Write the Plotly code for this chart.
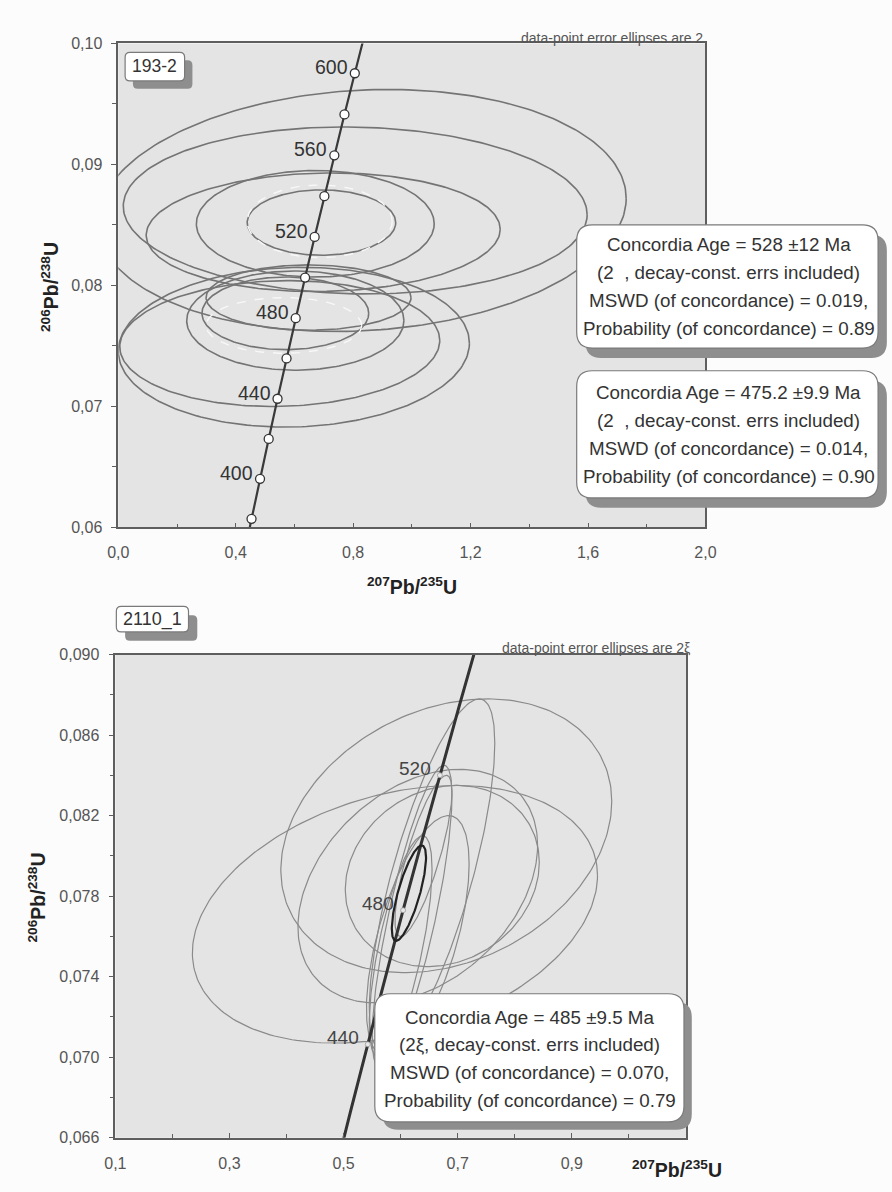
import numpy as np
import plotly.graph_objects as go

W, H = 892, 1192

# ---------------- data ----------------
# Concordia curve vertices (age Ma, 207Pb/235U, 206Pb/238U)
CONC_AGE = [370, 380, 400, 420, 440, 460, 480, 500, 520, 540, 560, 580, 600, 620]
CONC_X = [0.4397, 0.4539, 0.4828, 0.5123, 0.5424, 0.5731, 0.6043, 0.6363,
          0.6688, 0.7020, 0.7359, 0.7704, 0.8056, 0.8415]
CONC_Y = [0.05908, 0.06072, 0.06402, 0.06732, 0.07064, 0.07397, 0.07730, 0.08065,
          0.08401, 0.08738, 0.09076, 0.09414, 0.09754, 0.10096]

TOP_MARK_AGES = [380, 400, 420, 440, 460, 480, 500, 520, 540, 560, 580, 600]
TOP_LABEL_AGES = [400, 440, 480, 520, 560, 600]
BOT_MARK_AGES = [440, 480, 520]
BOT_LABEL_AGES = [440, 480, 520]

# Top panel (193-2) error ellipses: centre, half-extent, correlation
TOP_CX = [0.83, 0.807, 0.698, 0.671, 0.692, 0.598, 0.55, 0.603, 0.569, 0.648]
TOP_CY = [0.0862, 0.0862, 0.0844, 0.0851, 0.0852, 0.0749, 0.0752, 0.0771, 0.0777, 0.0790]
TOP_SX = [0.90, 0.79, 0.603, 0.405, 0.253, 0.598, 0.545, 0.37, 0.284, 0.349]
TOP_SY = [0.0100, 0.0069, 0.0049, 0.0044, 0.0027, 0.0066, 0.0052, 0.0041, 0.0030, 0.0027]
TOP_RHO = [0.10, -0.05, 0.05, 0.0, 0.0, 0.05, 0.05, 0.0, 0.0, 0.0]

# Top panel concordia-age ellipses (white dashed)
TOP_AGE_CX = [0.686, 0.564]
TOP_AGE_CY = [0.0853, 0.0767]
TOP_AGE_SX = [0.247, 0.265]
TOP_AGE_SY = [0.0030, 0.0023]

# Bottom panel (2110_1) error ellipses
BOT_CX = [0.680, 0.590, 0.673, 0.630, 0.655, 0.620, 0.600, 0.640, 0.630]
BOT_CY = [0.0810, 0.0771, 0.0790, 0.0785, 0.0790, 0.0770, 0.0755, 0.0800, 0.0760]
BOT_SX = [0.290, 0.355, 0.170, 0.210, 0.110, 0.070, 0.055, 0.050, 0.090]
BOT_SY = [0.0068, 0.0064, 0.0045, 0.0058, 0.0088, 0.0075, 0.0055, 0.0040, 0.0060]
BOT_RHO = [0.25, 0.30, 0.15, 0.35, 0.75, 0.80, 0.70, 0.80, 0.60]

# Bottom panel concordia-age ellipse (black)
BOT_AGE_CX, BOT_AGE_CY, BOT_AGE_SX, BOT_AGE_SY, BOT_AGE_RHO = 0.6145, 0.07815, 0.030, 0.00237, 0.75

TOP_XTICKS = [0.0, 0.4, 0.8, 1.2, 1.6, 2.0]
TOP_XTEXT = ["0,0", "0,4", "0,8", "1,2", "1,6", "2,0"]
TOP_YTICKS = [0.06, 0.07, 0.08, 0.09, 0.10]
TOP_YTEXT = ["0,06", "0,07", "0,08", "0,09", "0,10"]
BOT_XTICKS = [0.1, 0.3, 0.5, 0.7, 0.9]
BOT_XTEXT = ["0,1", "0,3", "0,5", "0,7", "0,9"]
BOT_YTICKS = [0.066, 0.070, 0.074, 0.078, 0.082, 0.086, 0.090]
BOT_YTEXT = ["0,066", "0,070", "0,074", "0,078", "0,082", "0,086", "0,090"]

BOX1 = ["Concordia Age = 528 ±12 Ma", "(2  , decay-const. errs included)",
        "MSWD (of concordance) = 0.019,", "Probability (of concordance) = 0.89"]
BOX2 = ["Concordia Age = 475.2 ±9.9 Ma", "(2  , decay-const. errs included)",
        "MSWD (of concordance) = 0.014,", "Probability (of concordance) = 0.90"]
BOX3 = ["Concordia Age = 485 ±9.5 Ma", "(2ξ, decay-const. errs included)",
        "MSWD (of concordance) = 0.070,", "Probability (of concordance) = 0.79"]

FONT = "Liberation Sans, Arial, sans-serif"


def ellipse(cx, cy, sx, sy, rho, n=240):
    t = np.linspace(0, 2 * np.pi, n)
    x = cx + sx * np.cos(t)
    y = cy + sy * (rho * np.cos(t) + np.sqrt(1 - rho ** 2) * np.sin(t))
    return x, y


def P(x, y):
    return x / W, 1 - y / H


def rrect(x0, y0, x1, y1, r):
    pts = [("M", x0 + r, y0), ("L", x1 - r, y0), ("Q", x1, y0, x1, y0 + r),
           ("L", x1, y1 - r), ("Q", x1, y1, x1 - r, y1), ("L", x0 + r, y1),
           ("Q", x0, y1, x0, y1 - r), ("L", x0, y0 + r), ("Q", x0, y0, x0 + r, y0)]
    s = ""
    for p in pts:
        cmd = p[0]
        coords = p[1:]
        parts = []
        for i in range(0, len(coords), 2):
            a, b = P(coords[i], coords[i + 1])
            parts.append(f"{a:.5f},{b:.5f}")
        s += cmd + " " + " ".join(parts) + " "
    return s + "Z"


fig = go.Figure()

# ---------- top panel ----------
for cx, cy, sx, sy, r in zip(TOP_CX, TOP_CY, TOP_SX, TOP_SY, TOP_RHO):
    ex, ey = ellipse(cx, cy, sx, sy, r)
    fig.add_trace(go.Scatter(x=ex, y=ey, mode="lines", xaxis="x", yaxis="y",
                             line=dict(color="#747474", width=1.6), hoverinfo="skip", showlegend=False))
for cx, cy, sx, sy in zip(TOP_AGE_CX, TOP_AGE_CY, TOP_AGE_SX, TOP_AGE_SY):
    ex, ey = ellipse(cx, cy, sx, sy, 0.0)
    fig.add_trace(go.Scatter(x=ex, y=ey, mode="lines", xaxis="x", yaxis="y",
                             line=dict(color="#f8f8f8", width=1.4, dash="dash"), hoverinfo="skip", showlegend=False))

fig.add_trace(go.Scatter(x=CONC_X, y=CONC_Y, mode="lines", xaxis="x", yaxis="y",
                         line=dict(color="#3a3a3a", width=2.2), hoverinfo="skip", showlegend=False))
mi = [CONC_AGE.index(a) for a in TOP_MARK_AGES]
fig.add_trace(go.Scatter(x=[CONC_X[i] for i in mi], y=[CONC_Y[i] for i in mi], mode="markers",
                         xaxis="x", yaxis="y",
                         marker=dict(size=9, color="white", line=dict(color="#333", width=1.3)),
                         hoverinfo="skip", showlegend=False))

# ---------- bottom panel ----------
for cx, cy, sx, sy, r in zip(BOT_CX, BOT_CY, BOT_SX, BOT_SY, BOT_RHO):
    ex, ey = ellipse(cx, cy, sx, sy, r)
    fig.add_trace(go.Scatter(x=ex, y=ey, mode="lines", xaxis="x2", yaxis="y2",
                             line=dict(color="#8a8a8a", width=1.2), hoverinfo="skip", showlegend=False))
ex, ey = ellipse(BOT_AGE_CX, BOT_AGE_CY, BOT_AGE_SX, BOT_AGE_SY, BOT_AGE_RHO)
fig.add_trace(go.Scatter(x=CONC_X, y=CONC_Y, mode="lines", xaxis="x2", yaxis="y2",
                         line=dict(color="#333", width=3), hoverinfo="skip", showlegend=False))
fig.add_trace(go.Scatter(x=ex, y=ey, mode="lines", xaxis="x2", yaxis="y2",
                         line=dict(color="#222", width=2.2), hoverinfo="skip", showlegend=False))
bi = [CONC_AGE.index(a) for a in BOT_MARK_AGES]
fig.add_trace(go.Scatter(x=[CONC_X[i] for i in bi], y=[CONC_Y[i] for i in bi], mode="markers",
                         xaxis="x2", yaxis="y2",
                         marker=dict(size=5, color="#e8e8e8", line=dict(color="#999", width=0.8)),
                         hoverinfo="skip", showlegend=False))

ann = []
for a in TOP_LABEL_AGES:
    i = CONC_AGE.index(a)
    ann.append(dict(x=CONC_X[i], y=CONC_Y[i], xref="x", yref="y", text=str(a), showarrow=False,
                    xanchor="right", yanchor="middle", xshift=-5, yshift=6,
                    font=dict(family=FONT, size=19.5, color="#333")))
for a in BOT_LABEL_AGES:
    i = CONC_AGE.index(a)
    ann.append(dict(x=CONC_X[i], y=CONC_Y[i], xref="x2", yref="y2", text=str(a), showarrow=False,
                    xanchor="right", yanchor="middle", xshift=-7, yshift=7,
                    font=dict(family=FONT, size=19, color="#444")))


def ptext(x, y, text, size, color="#333", xanchor="center", angle=0, yanchor="middle"):
    px_, py_ = P(x, y)
    ann.append(dict(x=px_, y=py_, xref="paper", yref="paper", text=text, showarrow=False,
                    xanchor=xanchor, yanchor=yanchor, textangle=angle,
                    font=dict(family=FONT, size=size, color=color)))


shapes = []
# plot backgrounds
for xr, yr in (("x", "y"), ("x2", "y2")):
    shapes.append(dict(type="rect", xref=f"{xr} domain", yref=f"{yr} domain", x0=0, x1=1, y0=0, y1=1,
                       fillcolor="#e4e4e4", line=dict(width=0), layer="below"))


def box(x0, y0, x1, y1, r, dx, dy):
    shapes.append(dict(type="path", xref="paper", yref="paper", path=rrect(x0 + dx, y0 + dy, x1 + dx, y1 + dy, r),
                       fillcolor="#8e8e8e", line=dict(width=0), layer="above"))
    shapes.append(dict(type="path", xref="paper", yref="paper", path=rrect(x0, y0, x1, y1, r),
                       fillcolor="white", line=dict(color="#7a7a7a", width=1.2), layer="above"))


box(580, 220, 889, 345, 16, 9, 10)
box(580, 368, 889, 497, 16, 9, 10)
box(373, 1000, 690, 1130, 16, 8, 8)
box(117, 45, 178, 74, 5, 8, 8)
box(108, 607, 182, 633, 5, 9, 9)

for k, t in enumerate(BOX1):
    ptext(736, 240 + k * 28.5, t, 18.8)
for k, t in enumerate(BOX2):
    ptext(736, 390 + k * 28.5, t, 18.8)
for k, t in enumerate(BOX3):
    ptext(532, 1024 + k * 28, t, 18.8)

ptext(147, 59, "193-2", 17.5, "#333")
ptext(145, 620, "2110_1", 18, "#333")
ptext(712, 30, "data-point error ellipses are 2", 14, "#555", xanchor="right")
ptext(698, 649, "data-point error ellipses are 2ξ", 14, "#555", xanchor="right")

ptext(411, 586, "<b><sup>207</sup>Pb/<sup>235</sup>U</b>", 19.5, "#222")
ptext(40, 283, "<b><sup>206</sup>Pb/<sup>238</sup>U</b>", 19.5, "#222", angle=-90)
ptext(683, 1178, "<b><sup>207</sup>Pb/<sup>235</sup>U</b>", 19.5, "#222")
ptext(27, 902, "<b><sup>206</sup>Pb/<sup>238</sup>U</b>", 19.5, "#222", angle=-90)

tickfont = dict(family=FONT, size=16, color="#555")
axcommon = dict(showgrid=False, zeroline=False, showline=True, mirror=True,
                linecolor="#5e5e5e", linewidth=1.6, tickfont=tickfont, ticklen=5,
                tickcolor="#5e5e5e", tickwidth=1.3, fixedrange=True)

fig.update_layout(
    width=W, height=H, margin=dict(l=0, r=0, t=0, b=0),
    paper_bgcolor="#fcfcfc", plot_bgcolor="rgba(0,0,0,0)",
    showlegend=False,
    xaxis=dict(domain=[110 / W, 712 / W], anchor="y", range=[0, 2.0],
               tickvals=TOP_XTICKS, ticktext=TOP_XTEXT, ticks="inside", ticklabelstandoff=10,
               minor=dict(dtick=0.2, tick0=0, ticks="inside", ticklen=4, tickcolor="#5e5e5e"), **axcommon),
    yaxis=dict(domain=[1 - 527 / H, 1 - 36 / H], anchor="x", range=[0.06, 0.10],
               tickvals=TOP_YTICKS, ticktext=TOP_YTEXT, ticks="outside", ticklabelstandoff=6,
               minor=dict(dtick=0.005, tick0=0.06, ticks="outside", ticklen=4, tickcolor="#5e5e5e"), **axcommon),
    xaxis2=dict(domain=[107 / W, 692 / W], anchor="y2", range=[0.1, 1.1],
                tickvals=BOT_XTICKS, ticktext=BOT_XTEXT, ticks="inside", ticklabelstandoff=10,
                minor=dict(dtick=0.1, tick0=0.1, ticks="inside", ticklen=4, tickcolor="#5e5e5e"), **axcommon),
    yaxis2=dict(domain=[1 - 1146 / H, 1 - 656 / H], anchor="x2", range=[0.066, 0.090],
                tickvals=BOT_YTICKS, ticktext=BOT_YTEXT, ticks="outside", ticklabelstandoff=6,
                minor=dict(dtick=0.002, tick0=0.066, ticks="outside", ticklen=4, tickcolor="#5e5e5e"), **axcommon),
    shapes=shapes, annotations=ann,
)

fig.write_html("out.html", config={"displayModeBar": False},
               post_script="document.body.style.margin='0px';document.body.style.overflow='hidden';")
